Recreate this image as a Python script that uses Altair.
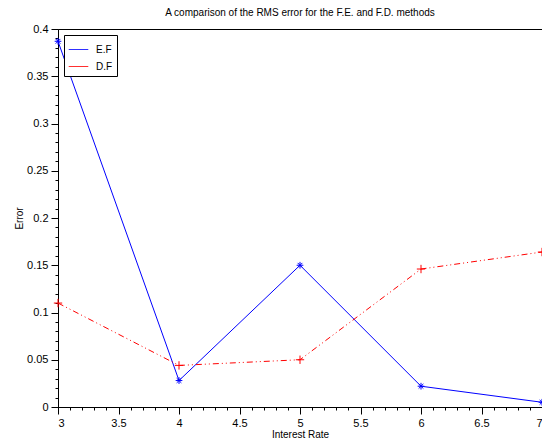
import altair as alt
import pandas as pd

# ---- data ----
rates = [3, 4, 5, 6, 7]
ef_error = [0.387, 0.028, 0.150, 0.022, 0.005]
df_error = [0.110, 0.044, 0.050, 0.146, 0.164]
series_names = ["E.F", "D.F"]
series_colors = ["#0000ff", "#ff0000"]

x_ticks = [round(3 + i * 0.1, 2) for i in range(41)]
y_ticks = [round(i * 0.01, 2) for i in range(41)]

rows = []
for r, v in zip(rates, ef_error):
    rows.append({"rate": r, "error": v, "series": "E.F"})
for r, v in zip(rates, df_error):
    rows.append({"rate": r, "error": v, "series": "D.F"})
data = pd.DataFrame(rows)

FONT = "Liberation Sans"

x_major_test = "abs(round(datum.value*2) - datum.value*2) < 1e-6"
y_major_test = "abs(round(datum.value*20) - datum.value*20) < 1e-6"

x_enc = alt.X(
    "rate:Q",
    scale=alt.Scale(domain=[3, 7], nice=False, zero=False),
    axis=alt.Axis(
        title="Interest Rate",
        values=x_ticks,
        format="~g",
        labelExpr=f"{x_major_test} ? datum.label : ''",
        tickSize={"condition": {"test": x_major_test, "value": 7}, "value": 3},
        grid=False,
    ),
)
y_enc = alt.Y(
    "error:Q",
    scale=alt.Scale(domain=[0, 0.4], nice=False),
    axis=alt.Axis(
        title="Error",
        values=y_ticks,
        format="~g",
        labelExpr=f"{y_major_test} ? datum.label : ''",
        tickSize={"condition": {"test": y_major_test, "value": 7}, "value": 3},
        grid=False,
    ),
)

stroke_scale = alt.Scale(domain=series_names, range=series_colors)
legend = alt.Legend(
    title=None,
    orient="none",
    legendX=6,
    legendY=6,
    symbolType="stroke",
    symbolSize=380,
    symbolStrokeWidth=1,
    symbolDash=[1, 0],
    labelFont=FONT,
    labelFontSize=10,
    labelColor="black",
    labelOffset=7,
    labelExpr="datum.label + '       '",
    strokeColor="black",
    fillColor="white",
    padding=4,
    rowPadding=1,
    cornerRadius=0,
)

base = alt.Chart(data)

ef_line = base.transform_filter(alt.datum.series == "E.F").mark_line(strokeWidth=1).encode(
    x=x_enc,
    y=y_enc,
    stroke=alt.Stroke("series:N", scale=stroke_scale, sort=series_names, legend=legend),
)

df_line = base.transform_filter(alt.datum.series == "D.F").mark_line(
    strokeWidth=1, color="#ff0000", strokeDash=[6, 3, 1, 3, 1, 3]
).encode(x=x_enc, y=y_enc)

asterisk = "M-1,0L1,0M0,-1L0,1M-0.7,-0.7L0.7,0.7M-0.7,0.7L0.7,-0.7"
plus = "M-1,0L1,0M0,-1L0,1"

ef_pts = base.transform_filter(alt.datum.series == "E.F").mark_point(
    shape=asterisk, filled=False, size=45, strokeWidth=1, color="#0000ff", opacity=1
).encode(x=x_enc, y=y_enc)

df_pts = base.transform_filter(alt.datum.series == "D.F").mark_point(
    shape=plus, filled=False, size=70, strokeWidth=1, color="#ff0000", opacity=1
).encode(x=x_enc, y=y_enc)

chart = (
    alt.layer(ef_line, df_line, ef_pts, df_pts)
    .properties(
        width=484,
        height=378,
        title=alt.TitleParams(
            "A comparison of the RMS error for the F.E. and F.D. methods",
            font=FONT,
            fontSize=10,
            fontWeight="normal",
            color="black",
            offset=5,
        ),
        padding={"left": 50, "top": 21, "right": 0, "bottom": 31},
        autosize=alt.AutoSizeParams(type="none"),
    )
    .configure_view(stroke="black", strokeWidth=1)
    .configure_axis(
        domainColor="black",
        tickColor="black",
        labelColor="black",
        titleColor="black",
        labelFont=FONT,
        labelFontSize=11,
        titleFont=FONT,
        titleFontSize=10,
        titleFontWeight="normal",
        labelPadding=3,
    )
    .configure_axisX(titlePadding=1)
    .configure_axisY(titlePadding=2)
)

chart.save("out.html", embed_options={"renderer": "svg", "actions": False})
